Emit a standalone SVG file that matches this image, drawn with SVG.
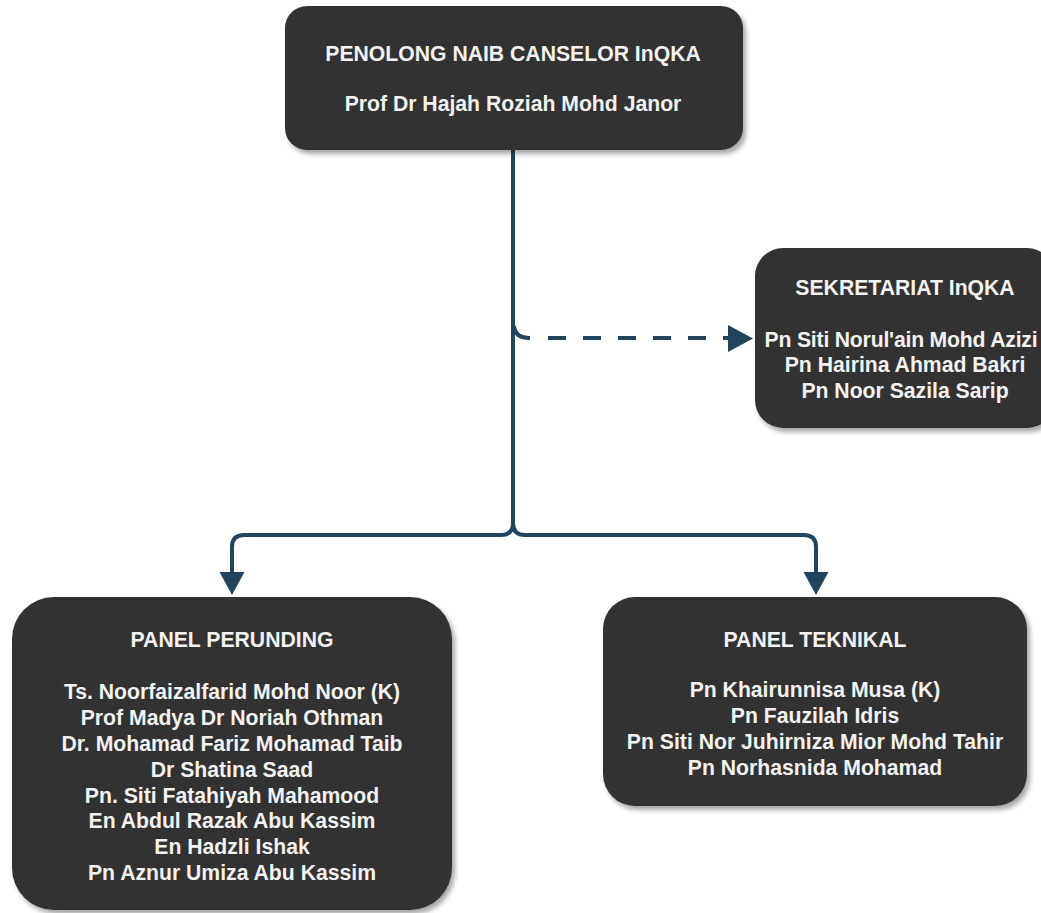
<svg xmlns="http://www.w3.org/2000/svg" width="1041" height="913" viewBox="0 0 1041 913">
<defs>
<filter id="sh" x="-10%" y="-10%" width="125%" height="125%">
<feGaussianBlur in="SourceAlpha" stdDeviation="2.5"/>
<feOffset dx="3" dy="4" result="b"/>
<feComponentTransfer><feFuncA type="linear" slope="0.35"/></feComponentTransfer>
<feMerge><feMergeNode/><feMergeNode in="SourceGraphic"/></feMerge>
</filter>
<style>
.box{fill:#333333;filter:url(#sh);}
text{font-family:"Liberation Sans",Arial,sans-serif;font-weight:bold;font-size:21.2px;fill:#f2f2f2;text-anchor:middle;}
.ln{fill:none;stroke:#23445d;stroke-width:4;}
.ah{fill:#23445d;}
</style>
</defs>
<rect width="1041" height="913" fill="#ffffff"/>
<g id="connectors">
<path class="ln" d="M513,150 L513,523 Q513,535 501,535 L244,535 Q232,535 232,547 L232,574"/>
<path class="ln" d="M513,523 Q513,535 525,535 L804,535 Q816,535 816,547 L816,574"/>
<path class="ah" d="M219.5,572 L244.5,572 L232,595 Z"/>
<path class="ah" d="M803.5,572 L828.5,572 L816,595 Z"/>
<path class="ln" d="M514,326 Q515,338 530,338"/>
<path class="ln" d="M548,338 L728,338" stroke-dasharray="18 17"/>
<path class="ah" d="M728,325 L753,338.5 L728,352 Z"/>
</g>
<g id="node-pnc">
<rect class="box" x="285" y="6" width="458" height="144" rx="22"/>
<text x="513" y="61">PENOLONG NAIB CANSELOR InQKA</text>
<text x="513" y="111">Prof Dr Hajah Roziah Mohd Janor</text>
</g>
<g id="node-sekretariat">
<rect class="box" x="755" y="248" width="300" height="180" rx="28"/>
<text x="905" y="295">SEKRETARIAT InQKA</text>
<text x="901" y="347" letter-spacing="-0.2">Pn Siti Norul'ain Mohd Azizi</text>
<text x="905" y="372">Pn Hairina Ahmad Bakri</text>
<text x="905" y="398">Pn Noor Sazila Sarip</text>
</g>
<g id="node-perunding">
<rect class="box" x="12" y="597" width="440" height="313" rx="42"/>
<text x="232" y="647">PANEL PERUNDING</text>
<text x="232" y="699">Ts. Noorfaizalfarid Mohd Noor (K)</text>
<text x="232" y="725">Prof Madya Dr Noriah Othman</text>
<text x="232" y="751">Dr. Mohamad Fariz Mohamad Taib</text>
<text x="232" y="777">Dr Shatina Saad</text>
<text x="232" y="803">Pn. Siti Fatahiyah Mahamood</text>
<text x="232" y="828">En Abdul Razak Abu Kassim</text>
<text x="232" y="854">En Hadzli Ishak</text>
<text x="232" y="880">Pn Aznur Umiza Abu Kassim</text>
</g>
<g id="node-teknikal">
<rect class="box" x="603" y="597" width="424" height="209" rx="32"/>
<text x="815" y="647">PANEL TEKNIKAL</text>
<text x="815" y="697">Pn Khairunnisa Musa (K)</text>
<text x="815" y="723">Pn Fauzilah Idris</text>
<text x="815" y="749">Pn Siti Nor Juhirniza Mior Mohd Tahir</text>
<text x="815" y="775">Pn Norhasnida Mohamad</text>
</g>
</svg>
